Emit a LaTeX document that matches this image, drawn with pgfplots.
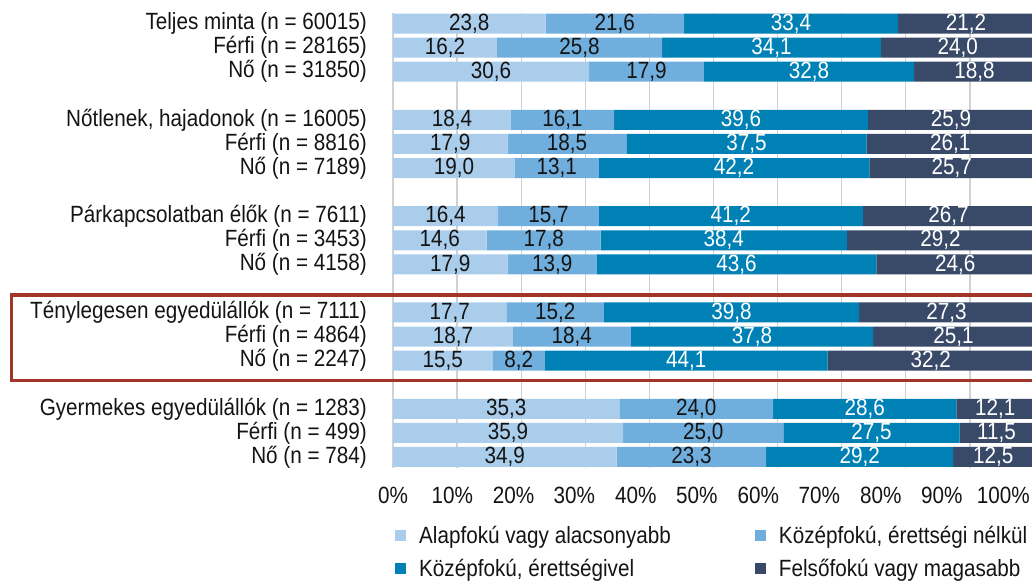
\documentclass[border=0pt]{standalone}
\usepackage{fontspec}
\setmainfont{Liberation Sans}[FakeStretch=0.88]
\usepackage{pgfplots}
\usepackage{pgfplotstable}
\pgfplotsset{compat=1.18}
\definecolor{c1}{RGB}{170,205,235}
\definecolor{c2}{RGB}{112,175,221}
\definecolor{c3}{RGB}{0,129,181}
\definecolor{c4}{RGB}{57,74,105}
\definecolor{boxred}{RGB}{162,52,40}
\definecolor{txt}{RGB}{20,20,20}
\newcommand{\fs}{\fontsize{23.5}{27}\selectfont}
\pgfplotstableread{
y a b c d
0 23.8 21.6 33.4 21.2
1 16.2 25.8 34.1 24.0
2 30.6 17.9 32.8 18.8
4 18.4 16.1 39.6 25.9
5 17.9 18.5 37.5 26.1
6 19.0 13.1 42.2 25.7
8 16.4 15.7 41.2 26.7
9 14.6 17.8 38.4 29.2
10 17.9 13.9 43.6 24.6
12 17.7 15.2 39.8 27.3
13 18.7 18.4 37.8 25.1
14 15.5 8.2 44.1 32.2
16 35.3 24.0 28.6 12.1
17 35.9 25.0 27.5 11.5
18 34.9 23.3 29.2 12.5
}\data
\pgfplotstablecreatecol[create col/expr={\thisrow{a}/2}]{ma}\data
\pgfplotstablecreatecol[create col/expr={\thisrow{a}+\thisrow{b}/2}]{mb}\data
\pgfplotstablecreatecol[create col/expr={\thisrow{a}+\thisrow{b}+\thisrow{c}/2}]{mc}\data
\pgfplotstablecreatecol[create col/expr={\thisrow{a}+\thisrow{b}+\thisrow{c}+\thisrow{d}/2}]{md}\data
\pgfplotsset{
  lblbase/.style={stack plots=false, forget plot, only marks, scatter, mark=*,
    draw=none, fill=none, mark size=0pt,
    mark options={draw=none, fill=none}, point meta=explicit,
    scatter/@post marker code/.code={}},
  lblk/.style={lblbase, scatter/@pre marker code/.code={\node[font=\fs, text=txt, inner sep=0pt] {\pgfmathprintnumber[fixed,fixed zerofill,precision=1,use comma,assume math mode=true]{\pgfplotspointmeta}};}},
  lblw/.style={lblbase, scatter/@pre marker code/.code={\node[font=\fs, text=white, inner sep=0pt] {\pgfmathprintnumber[fixed,fixed zerofill,precision=1,use comma,assume math mode=true]{\pgfplotspointmeta}};}},
}
\begin{document}
\begin{tikzpicture}
\useasboundingbox (0,0) rectangle (1032pt,582pt);
\begin{axis}[
  at={(393pt,114.2pt)}, anchor=south west,
  scale only axis, width=641pt, height=455.1pt,
  xbar stacked, bar width=20pt,
  xmin=0, xmax=100, ymin=-0.45, ymax=18.45, y dir=reverse,
  clip=false,
  ytick={0,1,2,4,5,6,8,9,10,12,13,14,16,17,18},
  yticklabels={Teljes minta (n = 60015), Férfi (n = 28165), Nő (n = 31850),
    {Nőtlenek, hajadonok (n = 16005)}, Férfi (n = 8816), Nő (n = 7189),
    Párkapcsolatban élők (n = 7611), Férfi (n = 3453), Nő (n = 4158),
    Ténylegesen egyedülállók (n = 7111), Férfi (n = 4864), Nő (n = 2247),
    Gyermekes egyedülállók (n = 1283), Férfi (n = 499), Nő (n = 784)},
  yticklabel style={font=\fs, text=txt, anchor=east, inner sep=0pt, xshift=-26pt},
  xtick={0,10,...,100}, xticklabels={},
  extra x ticks={0,9.25,18.8,28.3,37.9,47.4,57.0,66.5,76.1,85.6,95.2},
  extra x tick labels={0\%,10\%,20\%,30\%,40\%,50\%,60\%,70\%,80\%,90\%,100\%},
  extra x tick style={grid=none},
  xticklabel style={font=\fs, text=txt, anchor=north, inner sep=0pt, yshift=-19pt},
  major tick length=0pt,
  xmajorgrids, major grid style={draw=black!18, line width=1.3pt},
  axis line style={draw=none},
  legend columns=2,
  legend image code/.code={\fill[#1] (0pt,-5.5pt) rectangle (11pt,5.5pt);},
  legend style={at={(axis description cs:0,0)}, anchor=north west, xshift=-1pt, yshift=-56pt,
    draw=none, fill=none, font=\fs, text=txt, row sep=14pt,
    nodes={inner sep=0pt},
    cells={anchor=west},
    /tikz/every odd column/.append style={column sep=13pt},
    /tikz/every even column/.append style={column sep=84pt}},
]
\addplot[fill=c1, draw=none] table[x=a, y=y]{\data};
\addplot[fill=c2, draw=none] table[x=b, y=y]{\data};
\addplot[fill=c3, draw=none] table[x=c, y=y]{\data};
\addplot[fill=c4, draw=none] table[x=d, y=y]{\data};
\legend{Alapfokú vagy alacsonyabb, {Középfokú, érettségi nélkül}, {Középfokú, érettségivel}, Felsőfokú vagy magasabb}
\addplot[lblk] table[x=ma, y=y, meta=a]{\data};
\addplot[lblk] table[x=mb, y=y, meta=b]{\data};
\addplot[lblw] table[x=mc, y=y, meta=c]{\data};
\addplot[lblw] table[x=md, y=y, meta=d]{\data};
\draw[boxred, line width=3.3pt] (axis cs:-59.5,11.27) rectangle (axis cs:101,14.82);
\end{axis}
\end{tikzpicture}
\end{document}
